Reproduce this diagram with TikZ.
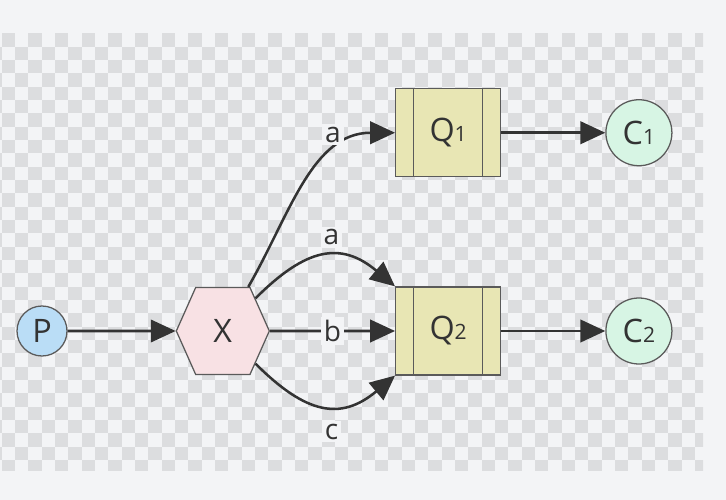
\documentclass[tikz,border=0pt]{standalone}
\usepackage{fontspec}
\setmainfont{Open Sans}
\usetikzlibrary{positioning, shapes.symbols, arrows.meta}

\definecolor{pagebg}{HTML}{F3F4F6}
\definecolor{checkgray}{HTML}{DCDDDF}
\definecolor{linegray}{HTML}{5A5A5A}
\definecolor{arrowgray}{HTML}{333333}
\definecolor{prodblue}{HTML}{BADDF6}
\definecolor{xpink}{HTML}{F8E1E4}
\definecolor{queuekhaki}{HTML}{E8E6B4}
\definecolor{consgreen}{HTML}{D7F5E4}

\newcommand{\qsub}[1]{{\fontsize{15}{15}\selectfont #1}}

\begin{document}
\begin{tikzpicture}[
        every node/.style={font=\fontsize{23}{23}\selectfont, text=arrowgray},
        producer/.style={circle, draw=linegray, line width=0.9pt, fill=prodblue,
                         minimum size=1.25cm, inner sep=0pt},
        exchange/.style={signal, signal to=east and west, signal pointer angle=132,
                         draw=linegray, line width=0.9pt, fill=xpink,
                         minimum width=2.325cm, minimum height=2.175cm, inner sep=0pt},
        queue/.style={rectangle, draw=linegray, line width=0.9pt, fill=queuekhaki,
                      minimum width=2.625cm, minimum height=2.2cm, inner sep=0pt,
                      path picture={
                          \draw[linegray, line width=0.9pt]
                              ([xshift=0.45cm]path picture bounding box.north west) --
                              ([xshift=0.45cm]path picture bounding box.south west);
                          \draw[linegray, line width=0.9pt]
                              ([xshift=-0.45cm]path picture bounding box.north east) --
                              ([xshift=-0.45cm]path picture bounding box.south east);
                      }},
        consumer/.style={circle, draw=linegray, line width=0.9pt, fill=consgreen,
                         minimum size=1.65cm, inner sep=0pt},
        arrow/.style={-{Triangle[length=0.62cm, width=0.56cm]}, line width=1.8pt, draw=arrowgray},
        lbl/.style={fill=pagebg, inner sep=2pt, font=\fontsize{20}{20}\selectfont}
    ]

    % --- Background (checker) ---
    \fill[pagebg] (0,0) rectangle (18.15,-12.5);
    \begin{scope}
        \clip (0,-0.8325) rectangle (17.58,-11.75);
        \foreach \i in {0,...,53}{
            \foreach \j in {0,...,32}{
                \ifodd\numexpr\i+\j\relax
                    \fill[checkgray] (\i*0.3333-0.292, -\j*0.3333-0.8325) rectangle ++(0.3333,-0.3333);
                \fi
            }
        }
    \end{scope}

    % --- Nodes ---
    \node[producer] (P) at (1.05,-8.275) {P};
    \node[exchange, right=2.7cm of P] (X) {X};
    \node[queue, right=3.125cm of X] (Q2) {Q\qsub{2}};
    \node[queue, above=2.725cm of Q2] (Q1) {Q\qsub{1}};
    \node[consumer, right=2.6cm of Q2] (C2) {C\qsub{2}};
    \node[consumer, right=2.6cm of Q1] (C1) {C\qsub{1}};

    % --- Arrows ---
    \draw[arrow] (P) -- (X);
    \draw[arrow] (X.60) to[out=60, in=180]
        node[lbl, pos=0.69, above=5pt] {a} (Q1.west);
    \draw[arrow] (X.45) to[out=45, in=140, looseness=1.3]
        node[lbl, pos=0.56, above=5pt] {a} (Q2.north west);
    \draw[arrow] (X) -- node[lbl] {b} (Q2);
    \draw[arrow] (X.-45) to[out=-45, in=-140, looseness=1.3]
        node[lbl, pos=0.56, below=10pt] {c} (Q2.south west);

    \draw[arrow] (Q1) -- (C1);
    \draw[arrow] (Q2) -- (C2);

\end{tikzpicture}
\end{document}
